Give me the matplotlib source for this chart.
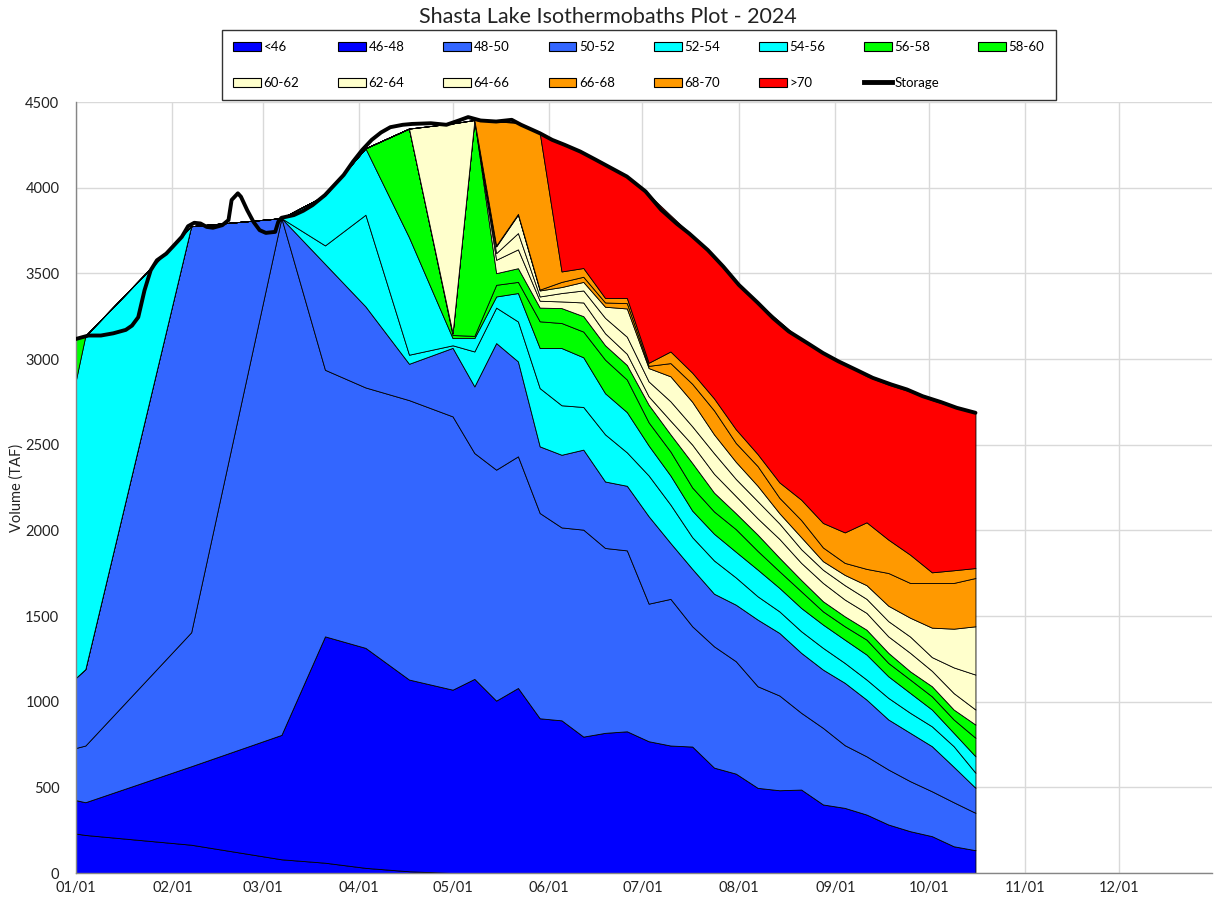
import numpy as np
import matplotlib
matplotlib.use("Agg")
import matplotlib.pyplot as plt
import matplotlib.dates as mdates
from matplotlib.patches import Patch
from matplotlib.lines import Line2D

plt.rcParams['font.family'] = ['Lato', 'DejaVu Sans']

# ---- profile dates (days after 2024-01-01) ----
profile_day = [0, 3, 37, 66, 80, 93, 107, 121, 128, 135, 142, 149, 156, 163, 170, 177,
               184, 191, 198, 205, 212, 219, 226, 233, 240, 247, 254, 261, 268, 275, 282, 289]

# ---- cumulative volume (TAF) colder than each isotherm ----
below_46 = [230, 222, 165, 80, 60, 30, 10, 0, 0, 0, 0, 0, 0, 0, 0, 0,
            0, 0, 0, 0, 0, 0, 0, 0, 0, 0, 0, 0, 0, 0, 0, 0]
below_48 = [425, 413, 623, 806, 1381, 1314, 1129, 1070, 1133, 1006, 1080, 903, 891, 796, 818, 827,
            769, 744, 738, 615, 580, 497, 483, 487, 400, 380, 341, 283, 244, 215, 156, 133]
below_50 = [730, 744, 1405, 3822, 2937, 2834, 2760, 2665, 2451, 2354, 2432, 2101, 2017, 2004, 1897, 1883,
            1572, 1600, 1440, 1323, 1236, 1090, 1036, 935, 847, 746, 681, 604, 536, 477, 413, 351]
below_52 = [1140, 1190, 3775, 3822, 3555, 3307, 2972, 3065, 2840, 3093, 2986, 2490, 2441, 2471, 2285, 2260,
            2082, 1926, 1775, 1630, 1566, 1479, 1401, 1285, 1187, 1110, 1012, 896, 818, 740, 620, 497]
below_54 = [1140, 1190, 3775, 3822, 3663, 3842, 3025, 3080, 3044, 3300, 3219, 2830, 2730, 2720, 2560, 2455,
            2320, 2150, 1960, 1824, 1725, 1615, 1527, 1411, 1314, 1226, 1129, 1022, 935, 856, 740, 585]
below_56 = [2880, 3135, 3775, 3822, 3955, 4230, 3710, 3122, 3122, 3365, 3385, 3064, 3064, 3010, 2800, 2690,
            2495, 2320, 2115, 1980, 1875, 1771, 1664, 1547, 1450, 1362, 1275, 1148, 1051, 954, 818, 681]
below_58 = [3120, 3135, 3775, 3822, 3955, 4230, 4345, 3140, 3135, 3433, 3450, 3220, 3210, 3160, 2996, 2880,
            2630, 2460, 2250, 2110, 2007, 1880, 1761, 1644, 1527, 1440, 1362, 1226, 1129, 1031, 896, 789]
below_60 = [3120, 3135, 3775, 3822, 3955, 4230, 4345, 3152, 4395, 3501, 3530, 3300, 3297, 3250, 3080, 2965,
            2733, 2560, 2393, 2220, 2100, 1975, 1840, 1710, 1586, 1498, 1420, 1285, 1177, 1090, 954, 866]
below_62 = [3120, 3135, 3775, 3822, 3955, 4230, 4345, 3152, 4395, 3579, 3640, 3340, 3336, 3330, 3150, 3030,
            2782, 2640, 2500, 2330, 2200, 2070, 1950, 1810, 1693, 1596, 1518, 1381, 1285, 1180, 1050, 954]
below_64 = [3120, 3135, 3775, 3822, 3955, 4230, 4345, 3152, 4395, 3618, 3735, 3365, 3385, 3400, 3240, 3130,
            2869, 2753, 2607, 2450, 2300, 2170, 2040, 1890, 1770, 1680, 1600, 1470, 1380, 1260, 1200, 1158]
below_66 = [3120, 3135, 3775, 3822, 3955, 4230, 4345, 4375, 4395, 3657, 3842, 3400, 3420, 3450, 3305, 3295,
            2947, 2899, 2750, 2560, 2400, 2260, 2100, 1960, 1820, 1740, 1680, 1560, 1490, 1432, 1426, 1440]
below_68 = [3120, 3135, 3775, 3822, 3955, 4230, 4345, 4375, 4395, 3662, 3847, 3405, 3450, 3480, 3330, 3326,
            2960, 2976, 2855, 2700, 2510, 2375, 2190, 2060, 1900, 1810, 1775, 1751, 1693, 1693, 1693, 1722]
below_70 = [3120, 3135, 3775, 3822, 3955, 4230, 4345, 4375, 4395, 4385, 4380, 4320, 3511, 3531, 3356, 3356,
            2978, 3044, 2920, 2770, 2590, 2445, 2280, 2179, 2043, 1988, 2047, 1946, 1858, 1755, 1767, 1780]
isotherm_total = [3120, 3135, 3775, 3822, 3955, 4230, 4345, 4375, 4395, 4385, 4380, 4320, 4255, 4200, 4130, 4065,
                  3960, 3840, 3720, 3590, 3450, 3330, 3220, 3110, 3035, 2970, 2900, 2850, 2810, 2760, 2720, 2686]

# ---- daily reservoir storage (TAF) ----
storage_day = [0, 4, 8, 12, 16, 18, 20, 22, 24, 26, 29, 31, 34, 36, 38, 40, 42, 44, 47, 49, 50, 52, 53, 55,
               57, 59, 61, 64, 65, 66, 70, 73, 76, 80, 82, 86, 89, 92, 95, 98, 101, 105, 108, 114, 119, 123,
               126, 130, 135, 140, 143, 149, 153, 157, 162, 167, 172, 177, 183, 188, 193, 197, 203, 208, 213,
               219, 224, 229, 235, 240, 245, 251, 256, 262, 267, 272, 278, 283, 289]
storage_taf = [3117, 3137, 3137, 3150, 3170, 3195, 3244, 3400, 3518, 3576, 3615, 3654, 3713, 3775, 3795, 3791,
               3771, 3766, 3781, 3811, 3928, 3967, 3947, 3869, 3801, 3752, 3736, 3742, 3801, 3824, 3840, 3865,
               3898, 3957, 3996, 4074, 4152, 4221, 4279, 4322, 4353, 4367, 4372, 4376, 4367, 4392, 4412, 4392,
               4386, 4396, 4367, 4318, 4279, 4250, 4211, 4163, 4114, 4065, 3978, 3871, 3790, 3733, 3636, 3539,
               3432, 3329, 3238, 3161, 3093, 3035, 2986, 2934, 2890, 2851, 2822, 2783, 2748, 2715, 2686]

band_labels = ['<46', '46-48', '48-50', '50-52', '52-54', '54-56', '56-58', '58-60',
               '60-62', '62-64', '64-66', '66-68', '68-70', '>70']
band_colors = ['#0000FF', '#0000FF', '#3366FF', '#3366FF', '#00FFFF', '#00FFFF', '#00FF00', '#00FF00',
               '#FFFFCC', '#FFFFCC', '#FFFFCC', '#FF9900', '#FF9900', '#FF0000']

start = np.datetime64('2024-01-01')
prof_dates = start + np.array(profile_day).astype('timedelta64[D]')
stor_dates = start + np.array(storage_day).astype('timedelta64[D]')

cum = np.array([below_46, below_48, below_50, below_52, below_54, below_56, below_58, below_60,
                below_62, below_64, below_66, below_68, below_70, isotherm_total], dtype=float)
layers = np.diff(np.vstack([np.zeros(cum.shape[1]), cum]), axis=0)

W, H = 1214, 905
fig = plt.figure(figsize=(W / 100, H / 100), dpi=100)
ax = fig.add_axes([76 / W, 32 / H, 1136 / W, 771 / H])

ax.stackplot(prof_dates, layers, colors=band_colors, edgecolor='black', linewidth=0.6, zorder=2)
ax.plot(stor_dates, storage_taf, color='black', lw=2.8, zorder=3,
        solid_capstyle='round', solid_joinstyle='round')

ax.set_xlim(np.datetime64('2024-01-01'), np.datetime64('2024-12-31'))
ax.set_ylim(0, 4500)
ax.set_yticks(np.arange(0, 4501, 500))
ax.xaxis.set_major_locator(mdates.MonthLocator())
ax.xaxis.set_major_formatter(mdates.DateFormatter('%m/%d'))
ax.grid(True, color='#d9d9d9', lw=1.0)
ax.set_axisbelow(True)
for s in ['top', 'right']:
    ax.spines[s].set_visible(False)
for s in ['left', 'bottom']:
    ax.spines[s].set_color('#868686')
    ax.spines[s].set_linewidth(1.0)
ax.tick_params(length=0, labelsize=10.5, colors='#222222')
ax.tick_params(axis='y', pad=12)
ax.tick_params(axis='x', pad=6)

ax.set_ylabel('Volume (TAF)', fontsize=10.5, color='#222222')
ax.yaxis.set_label_coords(-0.046, 0.5)

fig.text(0.501, 1 - 17 / H, 'Shasta Lake Isothermobaths Plot - 2024', ha='center', va='center',
         fontsize=15.5, color='#222222')

handles = [Patch(facecolor=c, edgecolor='black', linewidth=0.8) for c in band_colors]
handles.append(Line2D([], [], color='black', lw=3.5))
labels = band_labels + ['Storage']
order = [0, 8, 1, 9, 2, 10, 3, 11, 4, 12, 5, 13, 6, 14, 7]
leg = fig.legend([handles[i] for i in order], [labels[i] for i in order], ncol=8,
                 loc='upper left', bbox_to_anchor=(222 / W, 1 - 30 / H), bbox_transform=fig.transFigure,
                 borderaxespad=0, fontsize=9.5, handlelength=2.1, handleheight=0.7, handletextpad=0.2,
                 columnspacing=2.95, labelspacing=1.8, borderpad=0.85, frameon=True, fancybox=False)
leg.get_frame().set_edgecolor('black')
leg.get_frame().set_linewidth(1.0)

fig.savefig('out.png', dpi=100)
